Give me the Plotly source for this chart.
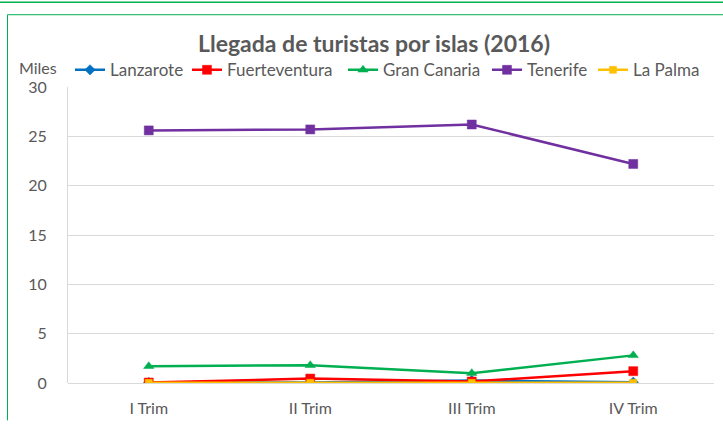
import plotly.graph_objects as go

categories = ["I Trim", "II Trim", "III Trim", "IV Trim"]
lanzarote = [0.05, 0.05, 0.25, 0.08]
fuerteventura = [0.05, 0.45, 0.15, 1.2]
gran_canaria = [1.7, 1.8, 1.0, 2.8]
tenerife = [25.6, 25.7, 26.2, 22.2]
la_palma = [0.02, 0.02, 0.02, 0.02]

series = [
    ("Lanzarote", lanzarote, "#0070C0", "diamond", 8),
    ("Fuerteventura", fuerteventura, "#FF0000", "square", 9),
    ("Gran Canaria", gran_canaria, "#00B050", "triangle-up", 9),
    ("Tenerife", tenerife, "#7030A0", "square", 9),
    ("La Palma", la_palma, "#FFC000", "square", 7),
]
# legend text left edges in pixels (layout)
legend_text_x = [110, 227, 383, 527, 633]

W, H = 723, 426
L, R, T, B = 68, 714, 87, 388

FONT = "Lato, 'Open Sans', sans-serif"
TXT = "#595959"

def px(x):
    return (x - L) / (R - L)

def py(y):
    return (B - y) / (B - T)

fig = go.Figure()
legends = {}
for i, (name, vals, col, sym, sz) in enumerate(series):
    lname = "legend" if i == 0 else f"legend{i + 1}"
    fig.add_trace(go.Scatter(
        x=categories, y=vals, name=name, mode="lines+markers",
        line=dict(color=col, width=2.5),
        marker=dict(color=col, symbol=sym, size=sz,
                    line=dict(color=col, width=0.5)),
        legend=lname,
    ))
    legends[lname] = dict(
        orientation="h", x=px(legend_text_x[i] - 40), xanchor="left",
        y=py(70), yanchor="middle",
        font=dict(size=17, color=TXT, family=FONT),
        itemwidth=30, bgcolor="rgba(0,0,0,0)", borderwidth=0,
    )

green = "#00B050"
shapes = [
    dict(type="line", xref="paper", yref="paper", x0=px(0), x1=px(W), y0=py(0.7), y1=py(0.7),
         line=dict(color=green, width=1.5)),
    dict(type="line", xref="paper", yref="paper", x0=px(7.5), x1=px(W), y0=py(13.5), y1=py(13.5),
         line=dict(color=green, width=1)),
    dict(type="line", xref="paper", yref="paper", x0=px(7.5), x1=px(7.5), y0=py(13.5), y1=py(H),
         line=dict(color=green, width=1)),
]

fig.update_layout(
    width=W, height=H,
    margin=dict(l=L, r=W - R, t=T, b=H - B),
    paper_bgcolor="white", plot_bgcolor="white",
    font=dict(family=FONT, color=TXT, size=16),
    title=dict(text="<b>Llegada de turistas por islas (2016)</b>",
               x=374 / W, xanchor="center", y=1 - 44 / H, yanchor="middle",
               font=dict(size=23, color=TXT, family=FONT)),
    showlegend=True,
    xaxis=dict(range=[-0.5, 3.5], showgrid=False, showline=False, ticks="", zeroline=False,
               ticklabelstandoff=14,
               tickfont=dict(size=16, color=TXT)),
    yaxis=dict(range=[0, 30], dtick=5, showgrid=True, gridcolor="#D9D9D9", gridwidth=1,
               zeroline=True, zerolinecolor="#D9D9D9", zerolinewidth=1,
               showline=True, linecolor="#D9D9D9", linewidth=1,
               ticks="", ticklabelstandoff=17,
               tickfont=dict(size=16, color=TXT)),
    shapes=shapes,
    annotations=[dict(text="Miles", xref="paper", yref="paper", x=px(38), y=py(67),
                      xanchor="center", yanchor="middle", showarrow=False,
                      font=dict(size=16, color=TXT, family=FONT))],
    **legends,
)

fig.write_html("out.html", config={"displayModeBar": False},
               post_script="document.body.style.margin='0';document.body.style.padding='0';")
